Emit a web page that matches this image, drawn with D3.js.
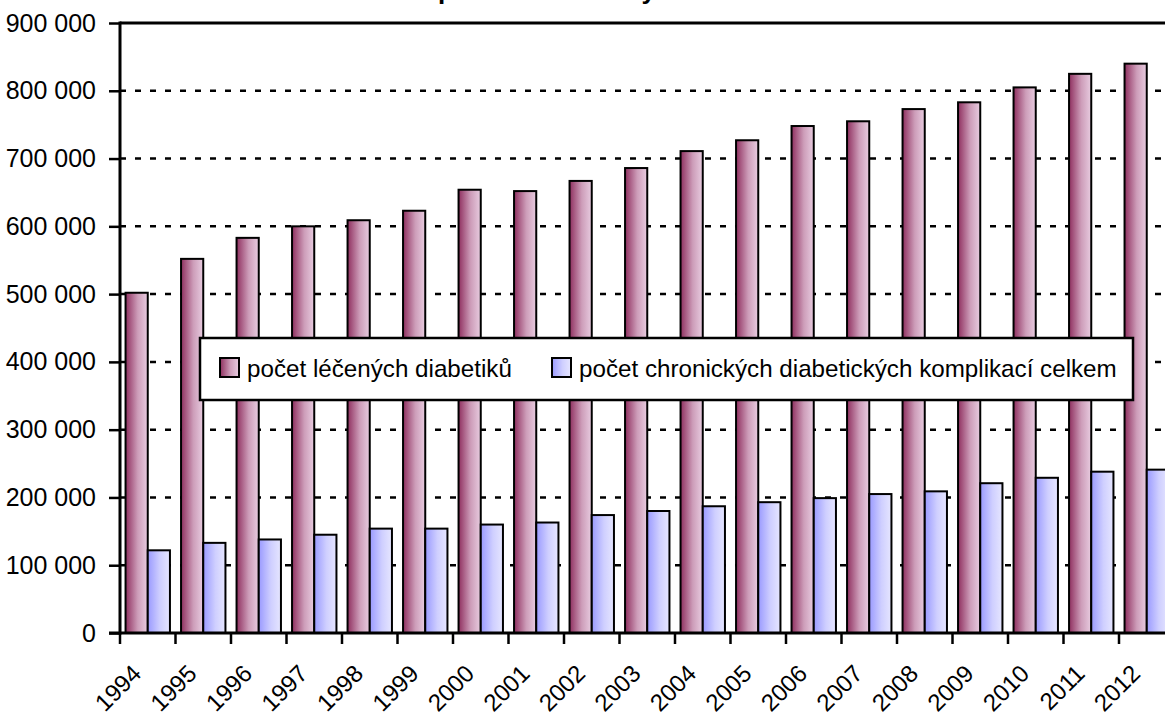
<!DOCTYPE html>
<html><head><meta charset="utf-8">
<script src="https://cdn.jsdelivr.net/npm/d3@7"></script>
<style>
html,body{margin:0;padding:0;background:#fff;overflow:hidden;}
svg{display:block;}
text{font-family:"Liberation Sans Narrow","Arial Narrow",Arial,sans-serif;fill:#000;}
</style></head>
<body><svg id="c" width="1165" height="715"></svg>
<script>
const years = ["1994","1995","1996","1997","1998","1999","2000","2001","2002","2003","2004","2005","2006","2007","2008","2009","2010","2011","2012"];
const treated = [502000,552000,583000,600000,609000,623000,654000,652000,667000,686000,711000,727000,748000,755000,773000,783000,805000,825000,840000];
const complications = [122000,133000,138000,145000,154000,154000,160000,163000,174000,180000,187000,193000,199000,205000,209000,221000,229000,238000,241000];
const seriesNames = ["počet léčených diabetiků","počet chronických diabetických komplikací celkem"];
const yTicks = [0,100000,200000,300000,400000,500000,600000,700000,800000,900000];
const titleText = "Diabetici – počet léčených";

const svg = d3.select("#c");
const defs = svg.append("defs");
function grad(id, c1, c2){
  const g = defs.append("linearGradient").attr("id",id).attr("x1","0%").attr("x2","100%").attr("y1","0%").attr("y2","0%");
  g.append("stop").attr("offset","0%").attr("stop-color",c1);
  g.append("stop").attr("offset","55%").attr("stop-color",d3.interpolateRgb(c1,c2)(0.7));
  g.append("stop").attr("offset","100%").attr("stop-color",c2);
}
grad("gM","#8f2f5f","#e8cce0");
grad("gB","#9a9aff","#e6e6ff");

const left = 120, zeroY = 633, topY = 23;
const bandW = 55.5;
const x = d3.scaleBand().domain(years).range([left, left + bandW*years.length]).paddingInner(0.2).paddingOuter(0.1);
const x1 = d3.scaleBand().domain([0,1]).range([0, x.bandwidth()]);
const y = d3.scaleLinear().domain([0,900000]).range([zeroY, topY]);

// title (clipped at top, as in the reference)
svg.append("text").attr("x", 438).attr("y", -1.5).attr("font-size",26).attr("font-weight","bold")
  .style("font-family","Arial, 'Liberation Sans', sans-serif").style("letter-spacing","5.5px")
  .text(titleText.slice(titleText.indexOf("počet")));

// gridlines
svg.append("g").selectAll("line").data(yTicks.filter(d=>d>0 && d<900000)).join("line")
  .attr("x1", left).attr("x2", 1165).attr("y1", d=>y(d)).attr("y2", d=>y(d))
  .attr("stroke","#000").attr("stroke-width",2.5).attr("stroke-dasharray","6,9");

// top border line
svg.append("line").attr("x1", left).attr("x2", 1165).attr("y1", y(900000)).attr("y2", y(900000))
  .attr("stroke","#000").attr("stroke-width",3);

// bars
const g = svg.append("g");
const data = years.map((yr,i)=>({yr, v:[treated[i], complications[i]]}));
const grp = g.selectAll("g").data(data).join("g").attr("transform", d=>`translate(${x(d.yr)},0)`);
grp.selectAll("rect").data(d=>d.v.map((v,k)=>({v,k}))).join("rect")
  .attr("x", d=>x1(d.k)).attr("width", x1.bandwidth())
  .attr("y", d=>y(d.v)).attr("height", d=>zeroY - y(d.v))
  .attr("fill", d=> d.k===0 ? "url(#gM)" : "url(#gB)")
  .attr("stroke","#000").attr("stroke-width",2);

// y axis
const yAxis = d3.axisLeft(y).tickValues(yTicks).tickSize(11).tickPadding(13)
  .tickFormat(d => d3.format(",")(d).replace(/,/g," "));
const ya = svg.append("g").attr("transform",`translate(${left},0)`).call(yAxis);
ya.select(".domain").remove();
ya.selectAll(".tick line").attr("stroke","#000").attr("stroke-width",2.5);
ya.selectAll("text").attr("font-size",25).style("font-family",null);
svg.append("line").attr("x1",left).attr("x2",left).attr("y1",topY-1.5).attr("y2",zeroY+1.5).attr("stroke","#000").attr("stroke-width",3);

// x axis
const xa = svg.append("g").attr("transform",`translate(0,${zeroY})`);
svg.append("line").attr("x1",left-11).attr("x2",1165).attr("y1",zeroY).attr("y2",zeroY).attr("stroke","#000").attr("stroke-width",3);
const step = x.step();
const bounds = d3.range(years.length+1).map(i => left + i*step);
xa.selectAll("line.t").data(bounds).join("line").attr("class","t")
  .attr("x1",d=>d).attr("x2",d=>d).attr("y1",0).attr("y2",11).attr("stroke","#000").attr("stroke-width",2.5);
xa.selectAll("text").data(years).join("text")
  .attr("transform", d=>`translate(${x(d)+x.bandwidth()/2-5},${42}) rotate(-45)`)
  .attr("text-anchor","end").attr("font-size",24).text(d=>d);

// legend
const lg = svg.append("g");
lg.append("rect").attr("x",200).attr("y",338).attr("width",933).attr("height",62)
  .attr("fill","#fff").attr("stroke","#000").attr("stroke-width",2.5);
const legX = [220, 552];
seriesNames.forEach((n,i)=>{
  lg.append("rect").attr("x",legX[i]).attr("y",358).attr("width",19).attr("height",19)
    .attr("fill", i===0?"url(#gM)":"url(#gB)").attr("stroke","#000").attr("stroke-width",2);
  lg.append("text").attr("x",legX[i]+27).attr("y",377).attr("font-size",24.2).text(n);
});
</script></body></html>
